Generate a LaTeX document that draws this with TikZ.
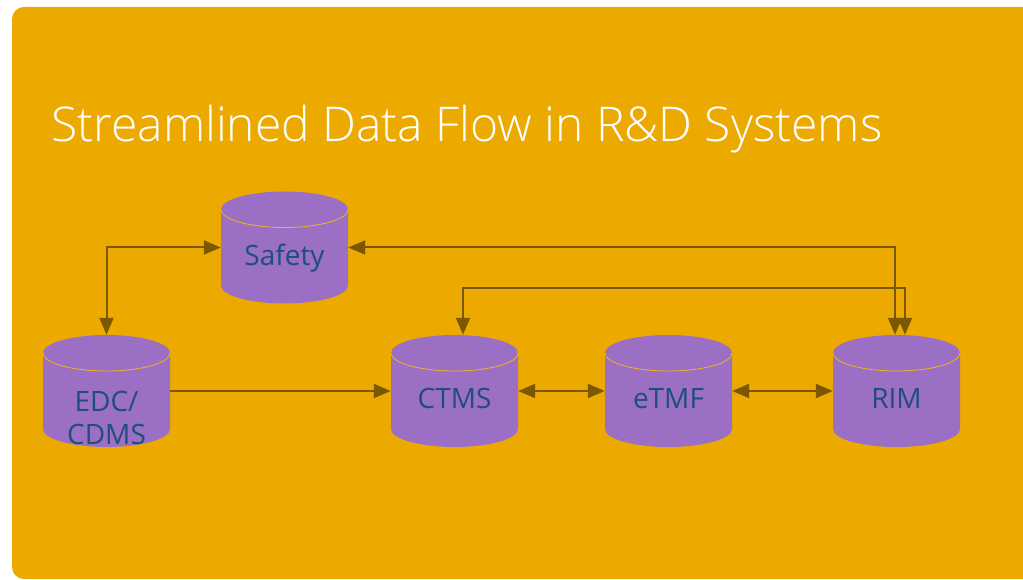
\documentclass[tikz,border=0pt]{standalone}
\usepackage{fontspec}
\setmainfont{Open Sans}
\newfontfamily\thinfont{Open Sans Light}
\usetikzlibrary{arrows.meta}

\definecolor{bgorange}{HTML}{ECAA00}
\definecolor{dbpurple}{HTML}{9B70C4}
\definecolor{linkbrown}{HTML}{7A5800}
\definecolor{labelblue}{HTML}{1F4E79}
\definecolor{rimorange}{HTML}{F2B223}

\tikzset{
	dbbox/.style={rectangle,minimum width=127pt,minimum height=112pt,inner sep=0pt},
	dblabel/.style={font=\fontsize{28}{33}\selectfont,text=labelblue,align=center,anchor=base},
	link/.style={draw=linkbrown,line width=2pt,>={Triangle[length=17pt,width=14pt]}},
}

% database drum: [label drop], name, x, y, label
\newcommand{\dbcyl}[5][18]{%
	\fill[dbpurple] (#3-63.5,#4+38) -- (#3-63.5,#4-38) arc[start angle=180,end angle=360,x radius=63.5,y radius=18] -- (#3+63.5,#4+38) arc[start angle=0,end angle=180,x radius=63.5,y radius=18] -- cycle;
	\draw[rimorange,line width=0.8pt] (#3-63.5,#4+38) arc[start angle=180,end angle=360,x radius=63.5,y radius=18];
	\node[dbbox] (#2) at (#3,#4) {};
	\node[dblabel] (#2-text) at ([yshift=-#1pt]#2.center) {#5};
}

\begin{document}
\begin{tikzpicture}[x=1pt,y=1pt]
	\useasboundingbox (0,0) rectangle (1023,580);
	\fill[bgorange,rounded corners=12pt] (12,1) rectangle (1060,573);
	\node[anchor=base west,text=white,font=\thinfont\fontsize{47.9}{56}\selectfont] (title) at (48,438) {Streamlined Data Flow in R\&D Systems};

	\dbcyl{safety}{284.5}{332.5}{Safety}
	\dbcyl[54]{edc}{106.5}{189}{EDC/\\CDMS}
	\dbcyl{ctms}{454.5}{189}{CTMS}
	\dbcyl{etmf}{668.5}{189}{eTMF}
	\dbcyl{rim}{896.5}{189}{RIM}

	\draw[link,<->] (edc.north) |- (safety.west);
	\draw[link,<->] (safety.east) -| ([xshift=-1.5pt]rim.north);
	\draw[link,<->] ([xshift=8.5pt]ctms.north) |- ([xshift=8.5pt,yshift=47pt]rim.north) -- ([xshift=8.5pt]rim.north);
	\draw[link,->] (edc.east) -- (ctms.west);
	\draw[link,<->] (ctms.east) -- (etmf.west);
	\draw[link,<->] (etmf.east) -- (rim.west);
\end{tikzpicture}
\end{document}
